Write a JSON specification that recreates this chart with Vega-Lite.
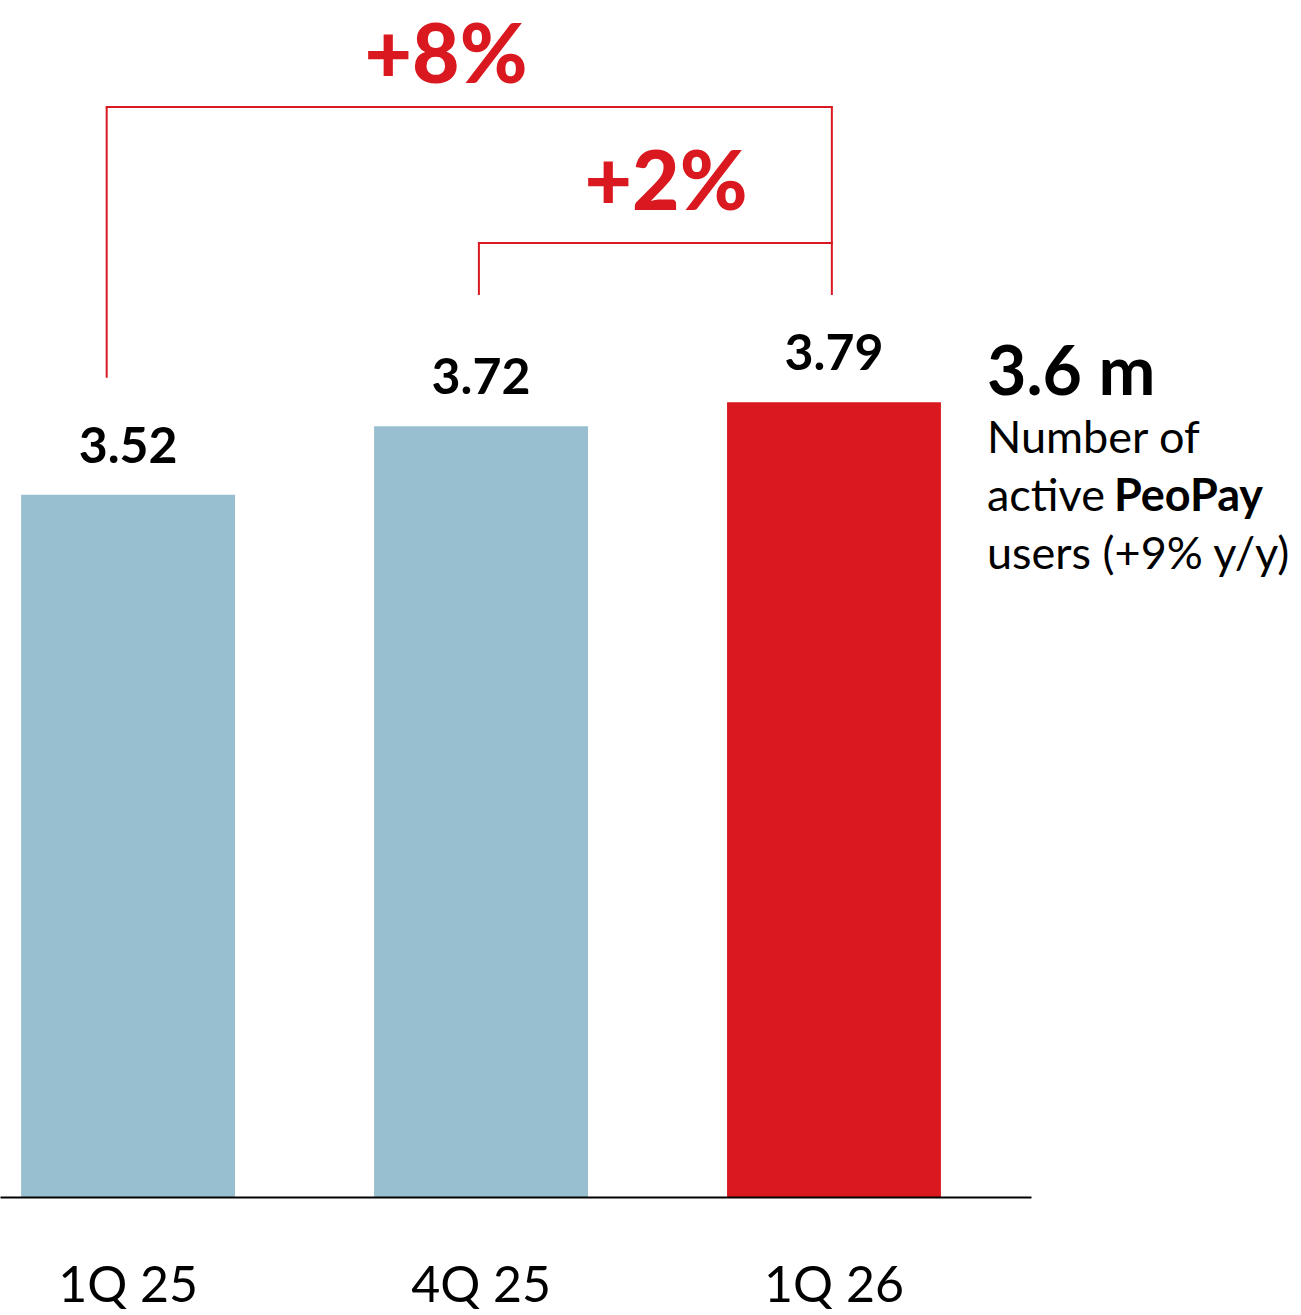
{
  "$schema": "https://vega.github.io/schema/vega-lite/v6.json",
  "width": 1031,
  "height": 1197,
  "autosize": {"type": "none"},
  "padding": {"left": 0, "top": 0, "right": 270, "bottom": 118},
  "background": "white",
  "config": {"view": {"stroke": null}, "font": "Lato"},
  "datasets": {
    "bars": [
      {"q": "1Q 25", "value": 3.52},
      {"q": "4Q 25", "value": 3.72},
      {"q": "1Q 26", "value": 3.79}
    ],
    "vrules": [
      {"seg": "8L", "q": "1Q 25", "lo": 3.861, "hi": 4.652},
      {"seg": "8R", "q": "1Q 26", "lo": 4.103, "hi": 4.652},
      {"seg": "2L", "q": "4Q 25", "lo": 4.103, "hi": 4.255}
    ],
    "hrules": [
      {"seg": "8T", "q": "1Q 25", "q2": "1Q 26", "level": 4.652},
      {"seg": "2T", "q": "4Q 25", "q2": "1Q 26", "level": 4.255}
    ],
    "notes": [
      {"id": "p8", "label": "+8%", "q": "4Q 25", "level": 4.722},
      {"id": "p2", "label": "+2%", "q": "1Q 26", "level": 4.351},
      {"id": "big", "label": "3.6 m", "q": "1Q 26", "level": 3.811},
      {"id": "l1", "label": "Number of", "q": "1Q 26", "level": 3.642},
      {"id": "l2a", "label": "active", "q": "1Q 26", "level": 3.472},
      {"id": "l2b", "label": "PeoPay", "q": "1Q 26", "level": 3.472},
      {"id": "l3", "label": "users (+9% y/y)", "q": "1Q 26", "level": 3.303}
    ]
  },
  "encoding": {
    "x": {
      "field": "q",
      "type": "nominal",
      "sort": ["1Q 25", "4Q 25", "1Q 26"],
      "scale": {"domain": ["1Q 25", "4Q 25", "1Q 26"], "paddingInner": 0.394, "paddingOuter": 0.1575, "align": 0.19},
      "axis": {
        "title": null,
        "labelAngle": 0,
        "ticks": false,
        "domain": true,
        "domainColor": "#000000",
        "domainWidth": 2,
        "labelFontSize": 50,
        "labelFont": "Lato",
        "labelColor": "#000000",
        "labelPadding": 64,
        "labelFontWeight": "normal",
        "zindex": 1
      }
    }
  },
  "layer": [
    {
      "data": {"name": "bars"},
      "mark": {"type": "bar", "clip": true},
      "encoding": {
        "y": {"field": "value", "type": "quantitative", "scale": {"domain": [1.47, 4.964], "zero": false, "nice": false}, "axis": null},
        "color": {"field": "q", "type": "nominal", "scale": {"domain": ["1Q 25", "4Q 25", "1Q 26"], "range": ["#97bfcf", "#97bfcf", "#d9191f"]}, "legend": null}
      }
    },
    {
      "data": {"name": "bars"},
      "mark": {"type": "text", "dy": -32, "baseline": "alphabetic", "fontSize": 50, "fontWeight": "bold", "color": "#000000"},
      "encoding": {
        "y": {"field": "value", "type": "quantitative"},
        "text": {"field": "value", "type": "quantitative", "format": ".2f"}
      }
    },
    {
      "data": {"name": "vrules"},
      "transform": [{"filter": "datum.seg === '8L'"}],
      "mark": {"type": "rule", "color": "#d9191f", "strokeWidth": 2},
      "encoding": {
        "x": {"field": "q", "type": "nominal", "bandPosition": 0.4},
        "y": {"field": "lo", "type": "quantitative"},
        "y2": {"field": "hi"}
      }
    },
    {
      "data": {"name": "vrules"},
      "transform": [{"filter": "datum.seg !== '8L'"}],
      "mark": {"type": "rule", "color": "#d9191f", "strokeWidth": 2},
      "encoding": {
        "x": {"field": "q", "type": "nominal", "bandPosition": 0.49},
        "y": {"field": "lo", "type": "quantitative"},
        "y2": {"field": "hi"}
      }
    },
    {
      "data": {"name": "hrules"},
      "transform": [{"filter": "datum.seg === '8T'"}],
      "mark": {"type": "rule", "color": "#d9191f", "strokeWidth": 2, "strokeCap": "square"},
      "encoding": {
        "x": {"field": "q", "type": "nominal", "bandPosition": 0.4},
        "x2": {"field": "q2", "bandPosition": 0.49},
        "y": {"field": "level", "type": "quantitative"}
      }
    },
    {
      "data": {"name": "hrules"},
      "transform": [{"filter": "datum.seg === '2T'"}],
      "mark": {"type": "rule", "color": "#d9191f", "strokeWidth": 2, "strokeCap": "square"},
      "encoding": {
        "x": {"field": "q", "type": "nominal", "bandPosition": 0.49},
        "x2": {"field": "q2", "bandPosition": 0.49},
        "y": {"field": "level", "type": "quantitative"}
      }
    },
    {
      "data": {"name": "notes"},
      "transform": [{"filter": "datum.id === 'p8'"}],
      "mark": {"type": "text", "dx": -35, "baseline": "alphabetic", "fontSize": 82, "fontWeight": 900, "color": "#d9191f"},
      "encoding": {"y": {"field": "level", "type": "quantitative"}, "text": {"field": "label"}}
    },
    {
      "data": {"name": "notes"},
      "transform": [{"filter": "datum.id === 'p2'"}],
      "mark": {"type": "text", "dx": -168, "baseline": "alphabetic", "fontSize": 82, "fontWeight": 900, "color": "#d9191f"},
      "encoding": {"y": {"field": "level", "type": "quantitative"}, "text": {"field": "label"}}
    },
    {
      "data": {"name": "notes"},
      "transform": [{"filter": "datum.id === 'big'"}],
      "mark": {"type": "text", "dx": 153, "align": "left", "baseline": "alphabetic", "fontSize": 68, "fontWeight": "bold", "color": "#000000"},
      "encoding": {"y": {"field": "level", "type": "quantitative"}, "text": {"field": "label"}}
    },
    {
      "data": {"name": "notes"},
      "transform": [{"filter": "datum.id === 'l1' || datum.id === 'l2a' || datum.id === 'l3'"}],
      "mark": {"type": "text", "dx": 153, "align": "left", "baseline": "alphabetic", "fontSize": 45, "fontWeight": "normal", "color": "#000000"},
      "encoding": {"y": {"field": "level", "type": "quantitative"}, "text": {"field": "label"}}
    },
    {
      "data": {"name": "notes"},
      "transform": [{"filter": "datum.id === 'l2b'"}],
      "mark": {"type": "text", "dx": 280, "align": "left", "baseline": "alphabetic", "fontSize": 45, "fontWeight": "bold", "color": "#000000"},
      "encoding": {"y": {"field": "level", "type": "quantitative"}, "text": {"field": "label"}}
    }
  ]
}
